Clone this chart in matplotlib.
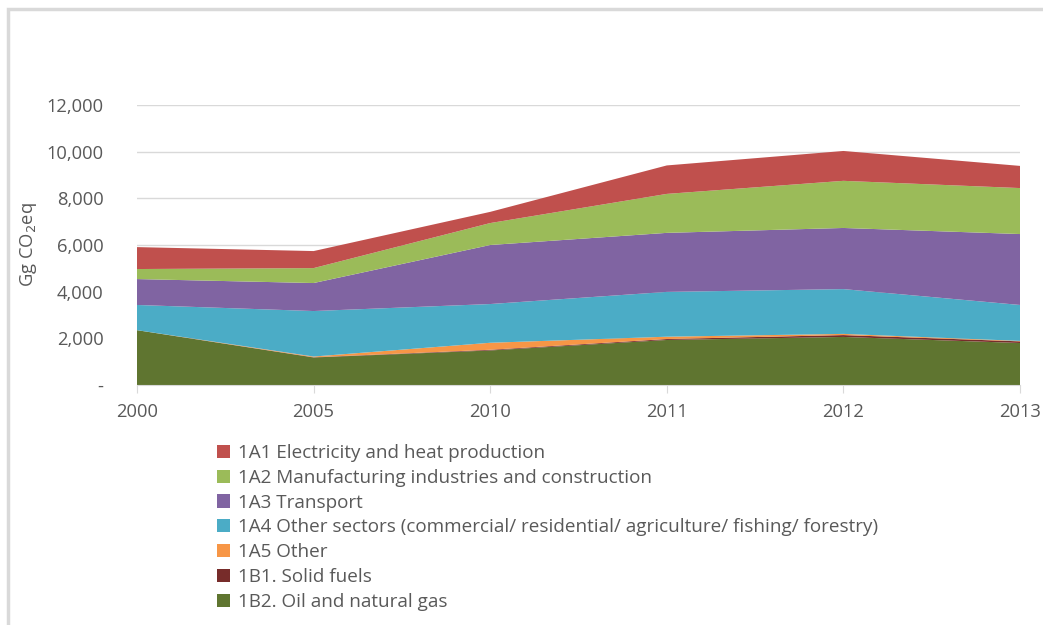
import numpy as np
import matplotlib.pyplot as plt
from matplotlib.patches import Rectangle

# ---------------------------------------------------------------------------
# Data (Gg CO2eq)
# ---------------------------------------------------------------------------
years = ["2000", "2005", "2010", "2011", "2012", "2013"]

oil_gas = [2350, 1180, 1480, 1930, 2060, 1800]        # 1B2
solid_fuels = [0, 10, 30, 40, 80, 70]                 # 1B1
other = [0, 30, 300, 100, 50, 20]                     # 1A5
other_sectors = [1080, 1950, 1660, 1920, 1920, 1540]  # 1A4
transport = [1110, 1200, 2530, 2530, 2620, 3040]      # 1A3
manufacturing = [430, 640, 940, 1670, 2020, 1970]     # 1A2
electricity = [940, 730, 480, 1220, 1280, 950]        # 1A1

labels = [
    "1B2. Oil and natural gas",
    "1B1. Solid fuels",
    "1A5 Other",
    "1A4 Other sectors (commercial/ residential/ agriculture/ fishing/ forestry)",
    "1A3 Transport",
    "1A2 Manufacturing industries and construction",
    "1A1 Electricity and heat production",
]
colors = ["#5F7530", "#772C2A", "#F79646", "#4BACC6", "#8064A2", "#9BBB59", "#C0504D"]

plt.rcParams["font.family"] = ["Open Sans", "DejaVu Sans"]
text_color = "#595959"

W, H = 1043, 625
fig = plt.figure(figsize=(W / 100, H / 100), dpi=100)

# chart border (left + top visible, rest cropped)
fig.patches.append(Rectangle((8 / W, -0.1), 1.2, 1 - 9 / H + 0.1,
                             transform=fig.transFigure, fill=False,
                             edgecolor="#D9D9D9", linewidth=2.5))

ax = fig.add_axes([137 / W, (H - 385) / H, (1020 - 137) / W, (385 - 105) / H])

x = np.arange(len(years))
series = [oil_gas, solid_fuels, other, other_sectors, transport, manufacturing, electricity]
polys = ax.stackplot(x, *series, colors=colors, labels=labels, linewidth=0)

ax.set_xlim(0, len(years) - 1)
ax.set_ylim(0, 12000)
ax.set_yticks(np.arange(0, 12001, 2000))
ax.set_yticklabels(["-"] + [f"{v:,}" for v in range(2000, 12001, 2000)])
ax.set_xticks(x)
ax.set_xticklabels(years)

ax.grid(axis="y", color="#D9D9D9", linewidth=1)
ax.set_axisbelow(True)
for side in ["top", "right", "left"]:
    ax.spines[side].set_visible(False)
ax.spines["bottom"].set_color("#D9D9D9")
ax.spines["bottom"].set_zorder(5)

ax.tick_params(axis="y", length=0, pad=24, labelsize=13.2, labelcolor=text_color)
ax.tick_params(axis="x", length=6, color="#D9D9D9", pad=7, labelsize=13.2,
               labelcolor=text_color)

ax.set_ylabel("Gg CO$_2$eq", fontsize=13.2, color=text_color)
ax.yaxis.set_label_coords(-(137 - 39) / (1020 - 137), 0.5)

# legend in reverse order (1A1 on top)
handles, labs = ax.get_legend_handles_labels()
fig.legend(handles[::-1], labs[::-1], loc="upper left",
           bbox_to_anchor=(217 / W, 1 - 444 / H), frameon=False,
           fontsize=13.6, labelcolor=text_color, handlelength=0.7,
           handleheight=0.7, handletextpad=0.4, labelspacing=0.36,
           borderaxespad=0, borderpad=0)

fig.savefig("out.png", dpi=100)
